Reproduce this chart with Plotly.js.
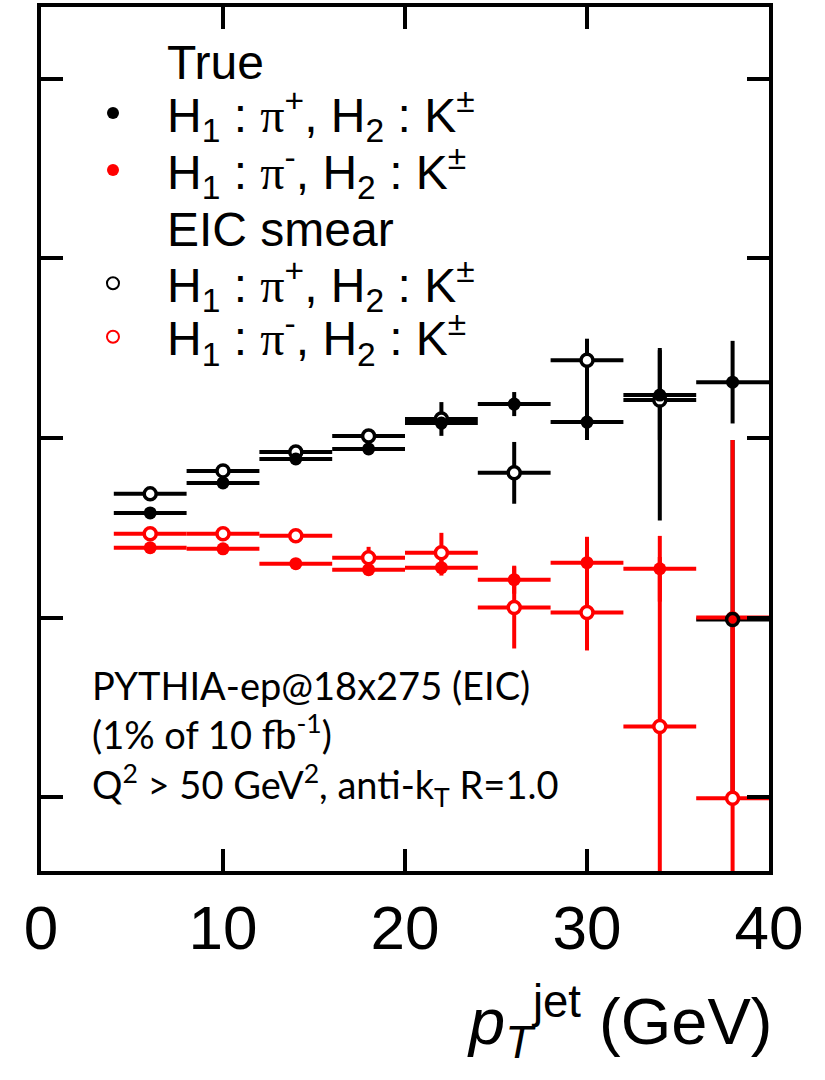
<!DOCTYPE html>
<html>
<head>
<meta charset="utf-8">
<script src="https://cdn.plot.ly/plotly-3.0.1.min.js"></script>
<style>html,body{margin:0;padding:0;background:#fff;}</style>
</head>
<body>
<div id="chart" style="width:825px;height:1080px;"></div>
<script>
// ---- data ----
const ptJet = [6, 10, 14, 18, 22, 26, 30, 34, 38];
const binHalfWidth = [2, 2, 2, 2, 2, 2, 2, 2, 2];

const truePiPlus = [2.583, 2.750, 2.883, 2.939, 3.083, 3.189, 3.089, 3.239, 3.311];
const truePiPlusErrUp = [0.02, 0.02, 0.02, 0.02, 0.035, 0.067, 0.10, 0.25, 0.23];
const truePiPlusErrDown = [0.02, 0.02, 0.02, 0.02, 0.035, 0.067, 0.10, 0.25, 0.23];

const eicPiPlus = [2.689, 2.817, 2.922, 3.011, 3.106, 2.806, 3.433, 3.211, 1.989];
const eicPiPlusErrUp = [0.02, 0.02, 0.02, 0.02, 0.094, 0.172, 0.12, 0.29, 1.0];
const eicPiPlusErrDown = [0.02, 0.02, 0.02, 0.02, 0.094, 0.172, 0.25, 0.67, 1.0];

const truePiMinus = [2.389, 2.383, 2.300, 2.267, 2.278, 2.211, 2.306, 2.272, 2.0];
const truePiMinusErrUp = [0.02, 0.02, 0.02, 0.02, 0.044, 0.078, 0.144, 0.183, 0.989];
const truePiMinusErrDown = [0.02, 0.02, 0.02, 0.02, 0.044, 0.078, 0.144, 0.183, 0.989];

const eicPiMinus = [2.467, 2.467, 2.456, 2.333, 2.361, 2.056, 2.028, 1.394, 0.994];
const eicPiMinusErrUp = [0.028, 0.028, 0.028, 0.061, 0.111, 0.228, 0.211, 0.944, 1.0];
const eicPiMinusErrDown = [0.028, 0.028, 0.028, 0.061, 0.111, 0.228, 0.211, 0.944, 1.0];

const xTickVals = [0, 10, 20, 30, 40];
const yTickVals = [1, 2, 3, 4, 5];

const PI = '<span style="font-family:\'Liberation Serif\'">π</span>';
const namePiPlus = 'H<sub>1</sub> : ' + PI + '<sup>+</sup>, H<sub>2</sub> : K<sup>±</sup>';
const namePiMinus = 'H<sub>1</sub> : ' + PI + '<sup>-</sup>, H<sub>2</sub> : K<sup>±</sup>';

// ---- traces ----
const BLACK = '#000000', RED = '#ff0000';
function errTrace(y, up, down, color) {
  return {
    x: ptJet, y: y, mode: 'markers', type: 'scatter',
    marker: {size: 1, color: 'rgba(0,0,0,0)'},
    error_x: {type: 'data', array: binHalfWidth, color: color, thickness: 4, width: 0},
    error_y: {type: 'data', symmetric: false, array: up, arrayminus: down,
              color: color, thickness: 4, width: 0},
    showlegend: false, hoverinfo: 'skip'
  };
}
function maskTrace(y) {
  return {x: ptJet, y: y, mode: 'markers', type: 'scatter',
    marker: {symbol: 'circle', size: 12, color: '#ffffff', line: {width: 0}},
    showlegend: false, hoverinfo: 'skip'};
}
function dotTrace(y, color, name, leg) {
  return {x: ptJet, y: y, mode: 'markers', type: 'scatter', name: name, legend: leg,
    marker: {symbol: 'circle', size: 13, color: color, line: {width: 0}}};
}
function ringTrace(y, color, name, leg) {
  return {x: ptJet, y: y, mode: 'markers', type: 'scatter', name: name, legend: leg,
    marker: {symbol: 'circle-open', size: 12, color: color, line: {width: 3.5, color: color}}};
}

const data = [
  errTrace(truePiPlus, truePiPlusErrUp, truePiPlusErrDown, BLACK),
  errTrace(eicPiPlus, eicPiPlusErrUp, eicPiPlusErrDown, BLACK),
  errTrace(truePiMinus, truePiMinusErrUp, truePiMinusErrDown, RED),
  errTrace(eicPiMinus, eicPiMinusErrUp, eicPiMinusErrDown, RED),
  maskTrace(eicPiPlus),
  maskTrace(eicPiMinus),
  dotTrace(truePiPlus, BLACK, namePiPlus, 'legend'),
  dotTrace(truePiMinus, RED, namePiMinus, 'legend2'),
  ringTrace(eicPiPlus, BLACK, namePiPlus, 'legend3'),
  ringTrace(eicPiMinus, RED, namePiMinus, 'legend4')
];

const SANS = 'Liberation Sans, Arial, sans-serif';
const axisCommon = {
  showline: true, linewidth: 4, linecolor: '#000',
  mirror: 'ticks', ticks: 'inside', ticklen: 22, tickwidth: 4, tickcolor: '#000',
  showgrid: false, zeroline: false
};
function legendAt(y) {
  return {
    x: 0.0247, y: y, xanchor: 'left', yanchor: 'middle',
    bgcolor: 'rgba(0,0,0,0)', borderwidth: 0,
    font: {family: SANS, size: 48, color: '#000'},
    itemsizing: 'constant', itemwidth: 98
  };
}

const layout = {
  width: 825, height: 1080,
  margin: {l: 41, r: 56, t: 7, b: 209},
  paper_bgcolor: '#fff', plot_bgcolor: '#fff',
  font: {family: SANS, color: '#000'},
  xaxis: Object.assign({}, axisCommon, {
    range: [0, 40], tickvals: xTickVals, ticktext: xTickVals.map(String),
    tickfont: {family: SANS, size: 62, color: '#000'}
  }),
  yaxis: Object.assign({}, axisCommon, {
    range: [0.589, 5.4], tickvals: yTickVals, showticklabels: false
  }),
  showlegend: true,
  legend: legendAt(0.877),
  legend2: legendAt(0.811),
  legend3: legendAt(0.680),
  legend4: legendAt(0.618),
  annotations: [
    {text: 'True', xref: 'paper', yref: 'paper', x: 0.170, y: 0.936,
     xanchor: 'left', yanchor: 'middle', showarrow: false,
     font: {family: SANS, size: 48, color: '#000'}},
    {text: 'EIC smear', xref: 'paper', yref: 'paper', x: 0.170, y: 0.742,
     xanchor: 'left', yanchor: 'middle', showarrow: false,
     font: {family: SANS, size: 48, color: '#000'}},
    {text: 'PYTHIA-ep@18x275 (EIC)<br>(1% of 10 fb<sup>-1</sup>)<br>Q<sup>2</sup> &gt; 50 GeV<sup>2</sup>, anti-k<sub>T</sub> R=1.0',
     xref: 'paper', yref: 'paper', x: 0.0673, y: 0.155,
     xanchor: 'left', yanchor: 'middle', align: 'left', showarrow: false,
     font: {family: 'Lato, sans-serif', size: 38, color: '#000'}},
    {text: '<i>p</i><sub><i>T</i></sub><sup>jet</sup> (GeV)',
     xref: 'paper', yref: 'paper', x: 1.007, y: -0.175,
     xanchor: 'right', yanchor: 'middle', showarrow: false,
     font: {family: SANS, size: 65, color: '#000'}}
  ]
};

Plotly.newPlot('chart', data, layout, {displayModeBar: false, staticPlot: true});
</script>
</body>
</html>
